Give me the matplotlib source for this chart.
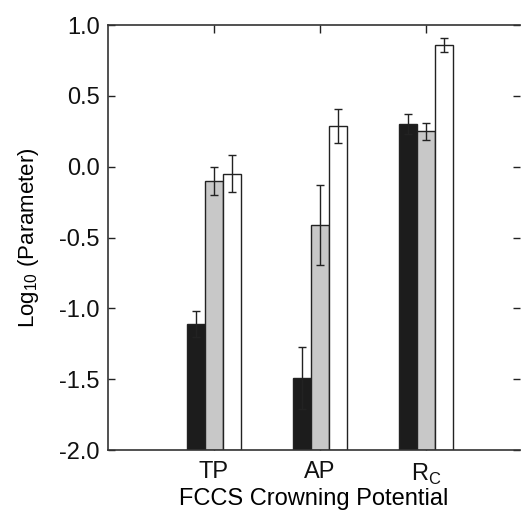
import numpy as np
import matplotlib
matplotlib.use("Agg")
import matplotlib.pyplot as plt

plt.rcParams["font.family"] = ["Liberation Sans", "DejaVu Sans"]
plt.rcParams["mathtext.fontset"] = "custom"
plt.rcParams["mathtext.rm"] = "Liberation Sans"

# FCCS crowning potential categories and three parameter series (log10)
categories = ["TP", "AP", r"R$_\mathrm{C}$"]
series_black = [-1.11, -1.49, 0.30]
series_gray = [-0.10, -0.41, 0.25]
series_white = [-0.05, 0.29, 0.86]
err_black = [0.09, 0.22, 0.07]
err_gray = [0.10, 0.28, 0.06]
err_white = [0.13, 0.12, 0.05]
yticks = [-2.0, -1.5, -1.0, -0.5, 0.0, 0.5, 1.0]

fig = plt.figure(figsize=(5.21, 5.11), dpi=100)
ax = fig.add_axes([0.207, 0.119, 0.791, 0.832])

x = np.arange(len(categories))
w = 0.17
bottom = -2.0
specs = [
    (series_black, err_black, "#1c1c1c", -w),
    (series_gray, err_gray, "#c8c8c8", 0.0),
    (series_white, err_white, "white", w),
]
for vals, errs, color, off in specs:
    heights = np.array(vals) - bottom
    ax.bar(x + off, heights, w, bottom=bottom, color=color,
           edgecolor="#222222", linewidth=1.0, zorder=2)
    ax.errorbar(x + off, vals, yerr=errs, fmt="none", ecolor="#222222",
                elinewidth=1.0, capsize=3, capthick=1.0, zorder=3)

ax.set_ylim(-2.0, 1.0)
ax.set_xlim(-1.0, 2.887)
ax.set_yticks(yticks)
ax.set_yticklabels([f"{t:.1f}" for t in yticks], fontsize=17)
ax.set_xticks(x)
ax.set_xticklabels(categories, fontsize=17)
ax.tick_params(axis="both", direction="in", length=6, width=1.0,
               top=True, right=True, colors="#222222", labelcolor="#111111")
ax.tick_params(axis="y", length=5, pad=6)
ax.tick_params(axis="x", pad=8)
ax.spines["right"].set_visible(False)
for s in ["left", "top", "bottom"]:
    ax.spines[s].set_color("#333333")
    ax.spines[s].set_linewidth(1.2)

ax.set_xlabel("FCCS Crowning Potential", fontsize=17, labelpad=1)
ax.set_ylabel(r"Log$_{10}$ (Parameter)", fontsize=16, labelpad=13)

fig.savefig("out.png", dpi=100)
